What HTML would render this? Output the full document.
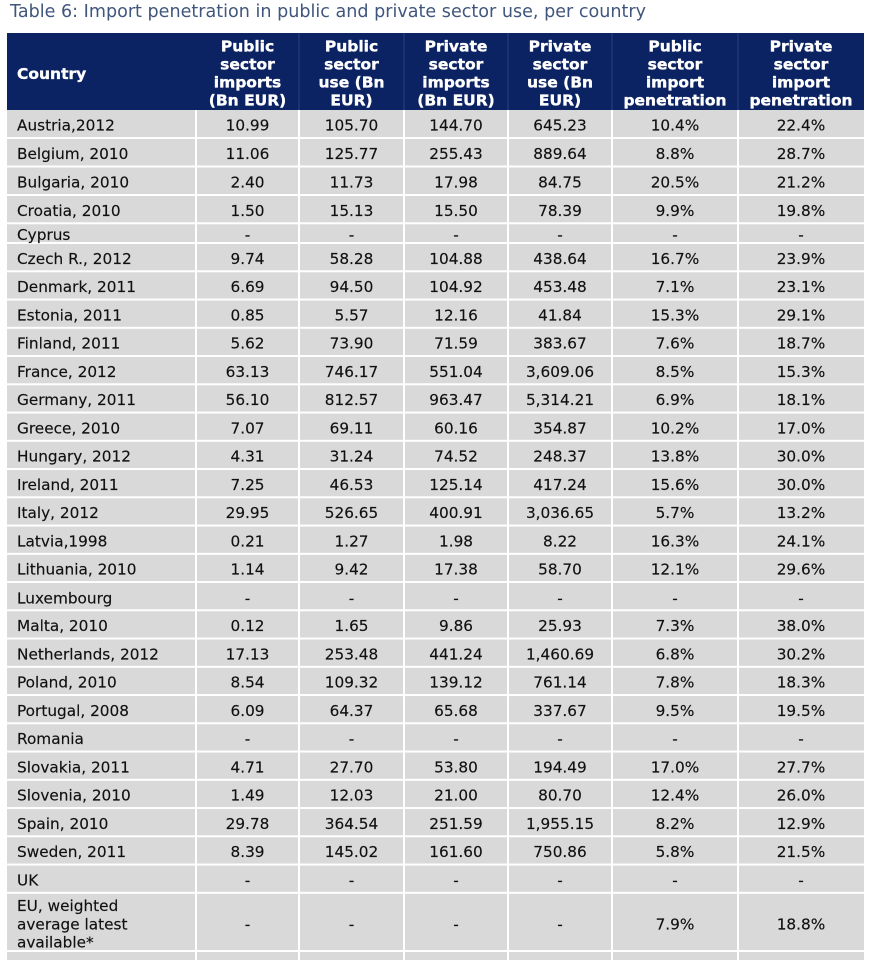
<!DOCTYPE html>
<html>
<head>
<meta charset="utf-8">
<style>
  html, body { margin:0; padding:0; background:#ffffff; }
  body { width:875px; height:960px; overflow:hidden; }
  svg { display:block; }
  .t { font-family:"DejaVu Sans","Liberation Sans",sans-serif; font-size:15.3px; fill:#101010; stroke:#101010; stroke-width:0.15px; }
  .h { font-family:"DejaVu Sans","Liberation Sans",sans-serif; font-size:15.5px; font-weight:bold; fill:#ffffff; stroke:#ffffff; stroke-width:0.35px; }
  .c { text-anchor:middle; }
</style>
</head>
<body>
<svg width="875" height="960" viewBox="0 0 875 960" xmlns="http://www.w3.org/2000/svg">
  <rect x="0" y="0" width="875" height="960" fill="#ffffff"/>
  <text x="10" y="17" font-family="DejaVu Sans, Liberation Sans, sans-serif" font-size="17.5" fill="#40567c" textLength="636" lengthAdjust="spacingAndGlyphs">Table 6: Import penetration in public and private sector use, per country</text>

  <!-- header -->
  <rect x="7" y="33" width="857" height="77" fill="#0b2263"/>
  <g fill="#2a4283">
    <rect x="298.5" y="33" width="1" height="77"/>
    <rect x="403.5" y="33" width="1" height="77"/>
    <rect x="507.5" y="33" width="1" height="77"/>
    <rect x="611.5" y="33" width="1" height="77"/>
    <rect x="737.5" y="33" width="1" height="77"/>
  </g>

  <!-- body background -->
  <rect x="7" y="110" width="857" height="850" fill="#d9d9d9"/>

  <!-- horizontal separators -->
  <g fill="#ffffff">
    <rect x="7" y="137" width="857" height="2"/>
    <rect x="7" y="165.5" width="857" height="2"/>
    <rect x="7" y="194" width="857" height="2"/>
    <rect x="7" y="222.3" width="857" height="2"/>
    <rect x="7" y="242" width="857" height="2"/>
    <rect x="7" y="270.3" width="857" height="2"/>
    <rect x="7" y="298.55" width="857" height="2"/>
    <rect x="7" y="326.8" width="857" height="2"/>
    <rect x="7" y="355.05" width="857" height="2"/>
    <rect x="7" y="383.3" width="857" height="2"/>
    <rect x="7" y="411.55" width="857" height="2"/>
    <rect x="7" y="439.8" width="857" height="2"/>
    <rect x="7" y="468.05" width="857" height="2"/>
    <rect x="7" y="496.3" width="857" height="2"/>
    <rect x="7" y="524.55" width="857" height="2"/>
    <rect x="7" y="552.8" width="857" height="2"/>
    <rect x="7" y="581.05" width="857" height="2"/>
    <rect x="7" y="609.3" width="857" height="2"/>
    <rect x="7" y="637.55" width="857" height="2"/>
    <rect x="7" y="665.8" width="857" height="2"/>
    <rect x="7" y="694.05" width="857" height="2"/>
    <rect x="7" y="722.3" width="857" height="2"/>
    <rect x="7" y="750.55" width="857" height="2"/>
    <rect x="7" y="778.8" width="857" height="2"/>
    <rect x="7" y="807.05" width="857" height="2"/>
    <rect x="7" y="835.3" width="857" height="2"/>
    <rect x="7" y="863.55" width="857" height="2"/>
    <rect x="7" y="891.8" width="857" height="2"/>
    <rect x="7" y="950" width="857" height="2"/>
  </g>
  <!-- vertical separators -->
  <g fill="#ffffff">
    <rect x="195" y="110" width="2" height="850"/>
    <rect x="298" y="110" width="2" height="850"/>
    <rect x="403" y="110" width="2" height="850"/>
    <rect x="507" y="110" width="2" height="850"/>
    <rect x="611" y="110" width="2" height="850"/>
    <rect x="737" y="110" width="2" height="850"/>
  </g>

  <!-- header text -->
  <text class="h" x="17" y="79">Country</text>
  <g>
    <text class="h c" x="247.5" y="51.3">Public</text>
    <text class="h c" x="247.5" y="69.3">sector</text>
    <text class="h c" x="247.5" y="87.3">imports</text>
    <text class="h c" x="247.5" y="105.3">(Bn EUR)</text>

    <text class="h c" x="351.5" y="51.3">Public</text>
    <text class="h c" x="351.5" y="69.3">sector</text>
    <text class="h c" x="351.5" y="87.3">use (Bn</text>
    <text class="h c" x="351.5" y="105.3">EUR)</text>

    <text class="h c" x="456" y="51.3">Private</text>
    <text class="h c" x="456" y="69.3">sector</text>
    <text class="h c" x="456" y="87.3">imports</text>
    <text class="h c" x="456" y="105.3">(Bn EUR)</text>

    <text class="h c" x="560" y="51.3">Private</text>
    <text class="h c" x="560" y="69.3">sector</text>
    <text class="h c" x="560" y="87.3">use (Bn</text>
    <text class="h c" x="560" y="105.3">EUR)</text>

    <text class="h c" x="675" y="51.3">Public</text>
    <text class="h c" x="675" y="69.3">sector</text>
    <text class="h c" x="675" y="87.3">import</text>
    <text class="h c" x="675" y="105.3">penetration</text>

    <text class="h c" x="801" y="51.3">Private</text>
    <text class="h c" x="801" y="69.3">sector</text>
    <text class="h c" x="801" y="87.3">import</text>
    <text class="h c" x="801" y="105.3">penetration</text>
  </g>

  <!-- body rows -->
  <g>
    <!-- Austria -->
    <text class="t" x="17" y="130.5">Austria,2012</text>
    <text class="t c" x="247.5" y="130.5">10.99</text><text class="t c" x="351.5" y="130.5">105.70</text><text class="t c" x="456" y="130.5">144.70</text><text class="t c" x="560" y="130.5">645.23</text><text class="t c" x="675" y="130.5">10.4%</text><text class="t c" x="801" y="130.5">22.4%</text>
    <!-- Belgium -->
    <text class="t" x="17" y="159">Belgium, 2010</text>
    <text class="t c" x="247.5" y="159">11.06</text><text class="t c" x="351.5" y="159">125.77</text><text class="t c" x="456" y="159">255.43</text><text class="t c" x="560" y="159">889.64</text><text class="t c" x="675" y="159">8.8%</text><text class="t c" x="801" y="159">28.7%</text>
    <!-- Bulgaria -->
    <text class="t" x="17" y="187.5">Bulgaria, 2010</text>
    <text class="t c" x="247.5" y="187.5">2.40</text><text class="t c" x="351.5" y="187.5">11.73</text><text class="t c" x="456" y="187.5">17.98</text><text class="t c" x="560" y="187.5">84.75</text><text class="t c" x="675" y="187.5">20.5%</text><text class="t c" x="801" y="187.5">21.2%</text>
    <!-- Croatia -->
    <text class="t" x="17" y="216">Croatia, 2010</text>
    <text class="t c" x="247.5" y="216">1.50</text><text class="t c" x="351.5" y="216">15.13</text><text class="t c" x="456" y="216">15.50</text><text class="t c" x="560" y="216">78.39</text><text class="t c" x="675" y="216">9.9%</text><text class="t c" x="801" y="216">19.8%</text>
    <!-- Cyprus -->
    <text class="t" x="17" y="240">Cyprus</text>
    <text class="t c" x="247.5" y="240">-</text><text class="t c" x="351.5" y="240">-</text><text class="t c" x="456" y="240">-</text><text class="t c" x="560" y="240">-</text><text class="t c" x="675" y="240">-</text><text class="t c" x="801" y="240">-</text>
    <!-- Czech -->
    <text class="t" x="17" y="264">Czech R., 2012</text>
    <text class="t c" x="247.5" y="264">9.74</text><text class="t c" x="351.5" y="264">58.28</text><text class="t c" x="456" y="264">104.88</text><text class="t c" x="560" y="264">438.64</text><text class="t c" x="675" y="264">16.7%</text><text class="t c" x="801" y="264">23.9%</text>
    <!-- Denmark -->
    <text class="t" x="17" y="292.2">Denmark, 2011</text>
    <text class="t c" x="247.5" y="292.2">6.69</text><text class="t c" x="351.5" y="292.2">94.50</text><text class="t c" x="456" y="292.2">104.92</text><text class="t c" x="560" y="292.2">453.48</text><text class="t c" x="675" y="292.2">7.1%</text><text class="t c" x="801" y="292.2">23.1%</text>
    <!-- Estonia -->
    <text class="t" x="17" y="320.5">Estonia, 2011</text>
    <text class="t c" x="247.5" y="320.5">0.85</text><text class="t c" x="351.5" y="320.5">5.57</text><text class="t c" x="456" y="320.5">12.16</text><text class="t c" x="560" y="320.5">41.84</text><text class="t c" x="675" y="320.5">15.3%</text><text class="t c" x="801" y="320.5">29.1%</text>
    <!-- Finland -->
    <text class="t" x="17" y="348.7">Finland, 2011</text>
    <text class="t c" x="247.5" y="348.7">5.62</text><text class="t c" x="351.5" y="348.7">73.90</text><text class="t c" x="456" y="348.7">71.59</text><text class="t c" x="560" y="348.7">383.67</text><text class="t c" x="675" y="348.7">7.6%</text><text class="t c" x="801" y="348.7">18.7%</text>
    <!-- France -->
    <text class="t" x="17" y="377">France, 2012</text>
    <text class="t c" x="247.5" y="377">63.13</text><text class="t c" x="351.5" y="377">746.17</text><text class="t c" x="456" y="377">551.04</text><text class="t c" x="560" y="377">3,609.06</text><text class="t c" x="675" y="377">8.5%</text><text class="t c" x="801" y="377">15.3%</text>
    <!-- Germany -->
    <text class="t" x="17" y="405.2">Germany, 2011</text>
    <text class="t c" x="247.5" y="405.2">56.10</text><text class="t c" x="351.5" y="405.2">812.57</text><text class="t c" x="456" y="405.2">963.47</text><text class="t c" x="560" y="405.2">5,314.21</text><text class="t c" x="675" y="405.2">6.9%</text><text class="t c" x="801" y="405.2">18.1%</text>
    <!-- Greece -->
    <text class="t" x="17" y="433.5">Greece, 2010</text>
    <text class="t c" x="247.5" y="433.5">7.07</text><text class="t c" x="351.5" y="433.5">69.11</text><text class="t c" x="456" y="433.5">60.16</text><text class="t c" x="560" y="433.5">354.87</text><text class="t c" x="675" y="433.5">10.2%</text><text class="t c" x="801" y="433.5">17.0%</text>
    <!-- Hungary -->
    <text class="t" x="17" y="461.7">Hungary, 2012</text>
    <text class="t c" x="247.5" y="461.7">4.31</text><text class="t c" x="351.5" y="461.7">31.24</text><text class="t c" x="456" y="461.7">74.52</text><text class="t c" x="560" y="461.7">248.37</text><text class="t c" x="675" y="461.7">13.8%</text><text class="t c" x="801" y="461.7">30.0%</text>
    <!-- Ireland -->
    <text class="t" x="17" y="490">Ireland, 2011</text>
    <text class="t c" x="247.5" y="490">7.25</text><text class="t c" x="351.5" y="490">46.53</text><text class="t c" x="456" y="490">125.14</text><text class="t c" x="560" y="490">417.24</text><text class="t c" x="675" y="490">15.6%</text><text class="t c" x="801" y="490">30.0%</text>
    <!-- Italy -->
    <text class="t" x="17" y="518.2">Italy, 2012</text>
    <text class="t c" x="247.5" y="518.2">29.95</text><text class="t c" x="351.5" y="518.2">526.65</text><text class="t c" x="456" y="518.2">400.91</text><text class="t c" x="560" y="518.2">3,036.65</text><text class="t c" x="675" y="518.2">5.7%</text><text class="t c" x="801" y="518.2">13.2%</text>
    <!-- Latvia -->
    <text class="t" x="17" y="546.5">Latvia,1998</text>
    <text class="t c" x="247.5" y="546.5">0.21</text><text class="t c" x="351.5" y="546.5">1.27</text><text class="t c" x="456" y="546.5">1.98</text><text class="t c" x="560" y="546.5">8.22</text><text class="t c" x="675" y="546.5">16.3%</text><text class="t c" x="801" y="546.5">24.1%</text>
    <!-- Lithuania -->
    <text class="t" x="17" y="574.7">Lithuania, 2010</text>
    <text class="t c" x="247.5" y="574.7">1.14</text><text class="t c" x="351.5" y="574.7">9.42</text><text class="t c" x="456" y="574.7">17.38</text><text class="t c" x="560" y="574.7">58.70</text><text class="t c" x="675" y="574.7">12.1%</text><text class="t c" x="801" y="574.7">29.6%</text>
    <!-- Luxembourg -->
    <text class="t" x="17" y="603.5">Luxembourg</text>
    <text class="t c" x="247.5" y="603.5">-</text><text class="t c" x="351.5" y="603.5">-</text><text class="t c" x="456" y="603.5">-</text><text class="t c" x="560" y="603.5">-</text><text class="t c" x="675" y="603.5">-</text><text class="t c" x="801" y="603.5">-</text>
    <!-- Malta -->
    <text class="t" x="17" y="631.2">Malta, 2010</text>
    <text class="t c" x="247.5" y="631.2">0.12</text><text class="t c" x="351.5" y="631.2">1.65</text><text class="t c" x="456" y="631.2">9.86</text><text class="t c" x="560" y="631.2">25.93</text><text class="t c" x="675" y="631.2">7.3%</text><text class="t c" x="801" y="631.2">38.0%</text>
    <!-- Netherlands -->
    <text class="t" x="17" y="659.5">Netherlands, 2012</text>
    <text class="t c" x="247.5" y="659.5">17.13</text><text class="t c" x="351.5" y="659.5">253.48</text><text class="t c" x="456" y="659.5">441.24</text><text class="t c" x="560" y="659.5">1,460.69</text><text class="t c" x="675" y="659.5">6.8%</text><text class="t c" x="801" y="659.5">30.2%</text>
    <!-- Poland -->
    <text class="t" x="17" y="687.7">Poland, 2010</text>
    <text class="t c" x="247.5" y="687.7">8.54</text><text class="t c" x="351.5" y="687.7">109.32</text><text class="t c" x="456" y="687.7">139.12</text><text class="t c" x="560" y="687.7">761.14</text><text class="t c" x="675" y="687.7">7.8%</text><text class="t c" x="801" y="687.7">18.3%</text>
    <!-- Portugal -->
    <text class="t" x="17" y="716">Portugal, 2008</text>
    <text class="t c" x="247.5" y="716">6.09</text><text class="t c" x="351.5" y="716">64.37</text><text class="t c" x="456" y="716">65.68</text><text class="t c" x="560" y="716">337.67</text><text class="t c" x="675" y="716">9.5%</text><text class="t c" x="801" y="716">19.5%</text>
    <!-- Romania -->
    <text class="t" x="17" y="744.2">Romania</text>
    <text class="t c" x="247.5" y="744.2">-</text><text class="t c" x="351.5" y="744.2">-</text><text class="t c" x="456" y="744.2">-</text><text class="t c" x="560" y="744.2">-</text><text class="t c" x="675" y="744.2">-</text><text class="t c" x="801" y="744.2">-</text>
    <!-- Slovakia -->
    <text class="t" x="17" y="772.5">Slovakia, 2011</text>
    <text class="t c" x="247.5" y="772.5">4.71</text><text class="t c" x="351.5" y="772.5">27.70</text><text class="t c" x="456" y="772.5">53.80</text><text class="t c" x="560" y="772.5">194.49</text><text class="t c" x="675" y="772.5">17.0%</text><text class="t c" x="801" y="772.5">27.7%</text>
    <!-- Slovenia -->
    <text class="t" x="17" y="800.7">Slovenia, 2010</text>
    <text class="t c" x="247.5" y="800.7">1.49</text><text class="t c" x="351.5" y="800.7">12.03</text><text class="t c" x="456" y="800.7">21.00</text><text class="t c" x="560" y="800.7">80.70</text><text class="t c" x="675" y="800.7">12.4%</text><text class="t c" x="801" y="800.7">26.0%</text>
    <!-- Spain -->
    <text class="t" x="17" y="829">Spain, 2010</text>
    <text class="t c" x="247.5" y="829">29.78</text><text class="t c" x="351.5" y="829">364.54</text><text class="t c" x="456" y="829">251.59</text><text class="t c" x="560" y="829">1,955.15</text><text class="t c" x="675" y="829">8.2%</text><text class="t c" x="801" y="829">12.9%</text>
    <!-- Sweden -->
    <text class="t" x="17" y="857.2">Sweden, 2011</text>
    <text class="t c" x="247.5" y="857.2">8.39</text><text class="t c" x="351.5" y="857.2">145.02</text><text class="t c" x="456" y="857.2">161.60</text><text class="t c" x="560" y="857.2">750.86</text><text class="t c" x="675" y="857.2">5.8%</text><text class="t c" x="801" y="857.2">21.5%</text>
    <!-- UK -->
    <text class="t" x="17" y="885.5">UK</text>
    <text class="t c" x="247.5" y="885.5">-</text><text class="t c" x="351.5" y="885.5">-</text><text class="t c" x="456" y="885.5">-</text><text class="t c" x="560" y="885.5">-</text><text class="t c" x="675" y="885.5">-</text><text class="t c" x="801" y="885.5">-</text>
    <!-- EU -->
    <text class="t" x="17" y="911">EU, weighted</text>
    <text class="t" x="17" y="929.3">average latest</text>
    <text class="t" x="17" y="947.5">available*</text>
    <text class="t c" x="247.5" y="929.3">-</text><text class="t c" x="351.5" y="929.3">-</text><text class="t c" x="456" y="929.3">-</text><text class="t c" x="560" y="929.3">-</text><text class="t c" x="675" y="929.3">7.9%</text><text class="t c" x="801" y="929.3">18.8%</text>
  </g>
</svg>
</body>
</html>
